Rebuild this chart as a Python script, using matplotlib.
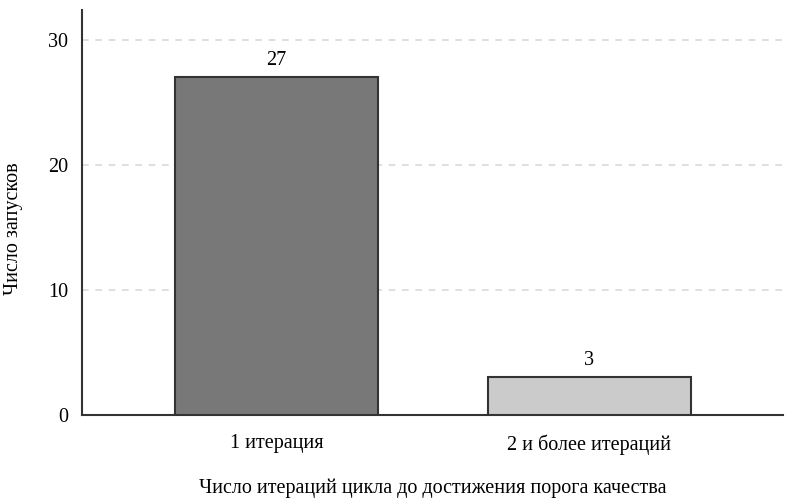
import matplotlib
matplotlib.use('Agg')
import matplotlib.pyplot as plt

# данные
categorias = ['1 итерация', '2 и более итераций']
valores = [27, 3]
cores = ['#787878', '#cbcbcb']

plt.rcParams['font.family'] = ['Liberation Serif', 'DejaVu Serif']

fig = plt.figure(figsize=(7.96, 5.01), dpi=100)
ax = fig.add_axes([0.103, 0.172, 0.881, 0.808])

x = list(range(len(categorias)))
bars = ax.bar(x, valores, width=0.65, color=cores, edgecolor='#333333', linewidth=1.5, zorder=3)

for b, v in zip(bars, valores):
    ax.text(b.get_x() + b.get_width() / 2, v + 0.6, str(v), ha='center', va='bottom', fontsize=14.5)

ax.set_xlim(-0.622, 1.62)
ax.set_ylim(0, max(valores) * 1.2)
ax.set_yticks([0, 10, 20, 30])
ax.set_xticks(x)
ax.set_xticklabels(categorias)
ax.tick_params(axis='both', length=0, labelsize=14.5)
ax.tick_params(axis='x', pad=14)
ax.tick_params(axis='y', pad=10)

ax.grid(axis='y', linestyle=(0, (4, 4)), color='#d9d9d9', linewidth=1.2, zorder=0)
for s in ['top', 'right']:
    ax.spines[s].set_visible(False)
for s in ['left', 'bottom']:
    ax.spines[s].set_color('#333333')
    ax.spines[s].set_linewidth(1.5)

ax.set_xlabel('Число итераций цикла до достижения порога качества', fontsize=14.5, labelpad=17)
ax.set_ylabel('Число запусков', fontsize=14.5)
ax.yaxis.set_label_coords(-0.084, 0.46)

plt.savefig('out.png', dpi=100)
